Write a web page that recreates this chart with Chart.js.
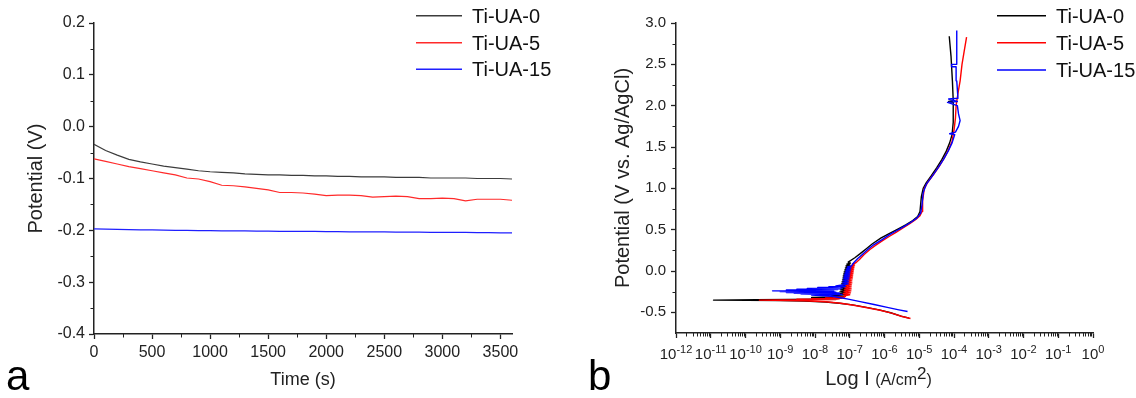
<!DOCTYPE html>
<html>
<head>
<meta charset="utf-8">
<script src="https://cdn.jsdelivr.net/npm/chart.js@4.4.1/dist/chart.umd.min.js"></script>
<style>
  html, body { margin: 0; padding: 0; background: #fff; }
  #wrap { position: relative; width: 1136px; height: 398px; overflow: hidden; }
  .panel { position: absolute; top: 0; width: 568px; height: 398px; }
  #panelA { left: 0; }
  #panelB { left: 568px; }
</style>
</head>
<body>
<div id="wrap">
  <div class="panel" id="panelA"><canvas id="ocpChart" width="568" height="398"></canvas></div>
  <div class="panel" id="panelB"><canvas id="tafelChart" width="568" height="398"></canvas></div>
</div>
<script>
// ---- data ----
const seriesNames = ['Ti-UA-0', 'Ti-UA-5', 'Ti-UA-15'];

// (a) open circuit potential vs time
const timeS = [0, 100, 200, 300, 400, 500, 600, 700, 800, 900, 1000, 1100, 1200, 1300, 1400, 1500, 1600, 1700, 1800,
  1900, 2000, 2100, 2200, 2300, 2400, 2500, 2600, 2700, 2800, 2900, 3000, 3100, 3200, 3300, 3400, 3500, 3600];
const ocpUa0 = [-0.034, -0.046, -0.055, -0.063, -0.068, -0.072, -0.076, -0.079, -0.082, -0.085,
  -0.087, -0.088, -0.089, -0.091, -0.092, -0.093, -0.093, -0.094, -0.094, -0.095,
  -0.095, -0.096, -0.096, -0.097, -0.097, -0.097, -0.098, -0.098, -0.098, -0.099,
  -0.099, -0.099, -0.099, -0.100, -0.100, -0.100, -0.101];
const ocpUa5 = [-0.062, -0.067, -0.072, -0.077, -0.081, -0.085, -0.089, -0.093, -0.099, -0.101,
  -0.106, -0.113, -0.114, -0.116, -0.119, -0.122, -0.127, -0.127, -0.128, -0.130,
  -0.133, -0.132, -0.132, -0.133, -0.136, -0.135, -0.134, -0.135, -0.139, -0.139,
  -0.138, -0.139, -0.143, -0.140, -0.140, -0.140, -0.142];
const ocpUa15 = [-0.197, -0.1975, -0.198, -0.1985, -0.199, -0.199, -0.1995, -0.2, -0.2, -0.2005,
  -0.2005, -0.201, -0.201, -0.201, -0.2015, -0.2015, -0.202, -0.202, -0.202, -0.202,
  -0.2025, -0.2025, -0.203, -0.203, -0.203, -0.203, -0.2035, -0.2035, -0.2035, -0.204,
  -0.204, -0.204, -0.204, -0.2045, -0.2045, -0.205, -0.205];
const timeTicks = [0, 500, 1000, 1500, 2000, 2500, 3000, 3500];
const ocpTicks = [-0.4, -0.3, -0.2, -0.1, 0.0, 0.1, 0.2];

// (b) polarisation curves: current density (A/cm2) and potential (V vs Ag/AgCl), in scan order
const ua0Current = [5.1e-6, 3.0e-6, 1.5e-6, 7.0e-7, 3.0e-7, 1.2e-7, 5.0e-8, 2.0e-8, 5.0e-9, 1.0e-9,
  1.2e-11, 2.0e-10, 2.0e-9, 1.0e-8, 4.0e-8, 6.0e-8, 8.0e-9, 7.0e-8, 3.0e-8,
  7.5e-8, 5.0e-8, 7.8e-8, 5.2e-8, 8.0e-8, 5.4e-8, 8.0e-8, 5.5e-8, 8.2e-8, 5.6e-8,
  8.4e-8, 5.8e-8, 8.5e-8, 6.0e-8, 8.6e-8, 6.2e-8, 8.8e-8, 6.4e-8, 9.0e-8, 6.5e-8,
  9.2e-8, 6.7e-8, 9.4e-8, 6.9e-8, 9.6e-8, 7.2e-8, 9.8e-8, 7.5e-8, 1.0e-7, 7.8e-8,
  1.02e-7, 8.2e-8, 1.05e-7, 9.0e-8,
  1.4e-7, 2.0e-7, 3.0e-7, 4.5e-7, 8.0e-7, 1.5e-6, 2.5e-6, 4.2e-6, 6.5e-6, 9.0e-6,
  1.05e-5, 1.15e-5, 1.3e-5, 1.6e-5, 2.2e-5, 3.2e-5, 4.5e-5, 6.0e-5, 7.5e-5, 8.8e-5,
  9.5e-5, 9.5e-5, 7.0e-5, 9.5e-5, 9.0e-5, 8.2e-5, 7.3e-5];
const ua0Potential = [-0.57, -0.545, -0.505, -0.47, -0.44, -0.41, -0.39, -0.375, -0.365, -0.358,
  -0.352, -0.348, -0.345, -0.34, -0.335, -0.325, -0.32, -0.31, -0.30,
  -0.288, -0.276, -0.264, -0.252, -0.24, -0.228, -0.216, -0.204, -0.192, -0.18,
  -0.168, -0.156, -0.144, -0.132, -0.12, -0.108, -0.096, -0.084, -0.072, -0.06,
  -0.048, -0.036, -0.024, -0.012, 0.0, 0.012, 0.024, 0.036, 0.048, 0.06,
  0.072, 0.084, 0.096, 0.108,
  0.16, 0.21, 0.27, 0.33, 0.40, 0.46, 0.51, 0.56, 0.61, 0.66,
  0.72, 0.9, 1.0, 1.07, 1.15, 1.25, 1.35, 1.45, 1.55, 1.65,
  1.8, 2.04, 2.05, 2.06, 2.3, 2.6, 2.84];

const ua5Current = [5.6e-6, 3.2e-6, 1.6e-6, 7.5e-7, 3.2e-7, 1.3e-7, 5.5e-8, 2.0e-8, 5.0e-9,
  2.5e-10, 5.0e-9, 4.0e-8, 3.0e-9, 5.0e-8, 8.0e-9, 6.0e-8, 2.0e-8, 7.0e-8, 3.5e-8, 7.5e-8,
  7.0e-8, 1.0e-7, 6.5e-8, 1.05e-7, 6.8e-8, 1.08e-7, 7.0e-8, 1.1e-7, 7.2e-8, 1.1e-7,
  7.5e-8, 1.12e-7, 7.8e-8, 1.15e-7, 8.0e-8, 1.15e-7, 8.3e-8, 1.18e-7, 8.6e-8, 1.2e-7,
  9.0e-8, 1.22e-7, 9.3e-8, 1.25e-7, 9.6e-8, 1.27e-7, 1.0e-7, 1.3e-7, 1.05e-7, 1.33e-7,
  1.1e-7, 1.38e-7, 1.2e-7, 1.5e-7,
  1.9e-7, 2.6e-7, 3.8e-7, 5.5e-7, 9.0e-7, 1.4e-6, 2.2e-6, 3.4e-6, 5.2e-6, 7.8e-6,
  1.05e-5, 1.2e-5, 1.25e-5, 1.4e-5, 1.8e-5, 2.6e-5, 3.8e-5, 5.3e-5, 7.0e-5, 8.8e-5,
  1.0e-4, 1.1e-4, 1.15e-4, 1.3e-4, 1.5e-4, 1.7e-4, 1.95e-4, 2.3e-4];
const ua5Potential = [-0.575, -0.55, -0.51, -0.475, -0.445, -0.415, -0.39, -0.372, -0.362,
  -0.352, -0.348, -0.345, -0.342, -0.338, -0.335, -0.331, -0.327, -0.322, -0.317, -0.31,
  -0.30, -0.288, -0.276, -0.264, -0.252, -0.24, -0.228, -0.216, -0.204, -0.192,
  -0.18, -0.168, -0.156, -0.144, -0.132, -0.12, -0.108, -0.096, -0.084, -0.072,
  -0.06, -0.048, -0.036, -0.024, -0.012, 0.0, 0.012, 0.024, 0.036, 0.048,
  0.06, 0.072, 0.084, 0.1,
  0.14, 0.2, 0.26, 0.31, 0.37, 0.42, 0.47, 0.52, 0.57, 0.62,
  0.67, 0.72, 0.85, 1.0, 1.08, 1.17, 1.27, 1.37, 1.47, 1.57,
  1.7, 1.85, 2.0, 2.15, 2.3, 2.5, 2.65, 2.83];

const ua15Current = [4.6e-6, 2.6e-6, 1.2e-6, 5.0e-7, 2.0e-7, 9.0e-8, 5.0e-8, 3.0e-8,
  8.0e-9, 6.0e-8, 4.0e-9, 5.0e-8, 2.5e-9, 5.0e-8, 1.5e-9, 4.0e-8, 1.0e-9, 3.5e-8,
  6.0e-10, 3.0e-8, 1.5e-9, 4.5e-8, 3.0e-9, 5.5e-8, 6.0e-9, 6.0e-8, 1.2e-8, 7.0e-8,
  2.5e-8, 7.5e-8, 4.0e-8,
  6.0e-8, 9.0e-8, 6.2e-8, 9.2e-8, 6.4e-8, 9.4e-8, 6.6e-8, 9.6e-8, 6.8e-8, 9.8e-8,
  7.0e-8, 1.0e-7, 7.3e-8, 1.02e-7, 7.6e-8, 1.05e-7, 8.0e-8, 1.08e-7, 8.5e-8, 1.12e-7, 1.2e-7,
  1.3e-7, 1.7e-7, 2.3e-7, 3.3e-7, 5.0e-7, 8.5e-7, 1.4e-6, 2.3e-6, 3.7e-6, 5.8e-6,
  8.5e-6, 1.1e-5, 1.2e-5, 1.3e-5, 1.6e-5, 2.4e-5, 3.5e-5, 5.0e-5, 6.8e-5, 8.8e-5,
  1.05e-4, 7.5e-5, 1.1e-4, 1.35e-4, 1.5e-4, 1.35e-4, 1.25e-4, 6.5e-5, 1.25e-4, 7.0e-5,
  1.3e-4, 1.2e-4, 1.15e-4, 8.5e-5, 8.5e-5, 1.15e-4, 1.2e-4, 1.2e-4];
const ua15Potential = [-0.49, -0.47, -0.44, -0.405, -0.37, -0.34, -0.32, -0.305,
  -0.29, -0.285, -0.28, -0.275, -0.27, -0.265, -0.26, -0.255, -0.25, -0.245,
  -0.24, -0.235, -0.23, -0.225, -0.22, -0.215, -0.21, -0.205, -0.2, -0.195,
  -0.19, -0.185, -0.18,
  -0.168, -0.156, -0.144, -0.132, -0.12, -0.108, -0.096, -0.084, -0.072, -0.06,
  -0.048, -0.036, -0.024, -0.012, 0.0, 0.012, 0.024, 0.036, 0.048, 0.06, 0.08,
  0.1, 0.15, 0.2, 0.26, 0.32, 0.38, 0.44, 0.49, 0.54, 0.59,
  0.64, 0.7, 0.8, 0.95, 1.05, 1.15, 1.25, 1.35, 1.45, 1.55,
  1.65, 1.66, 1.68, 1.75, 1.82, 1.9, 2.0, 2.04, 2.05, 2.08,
  2.09, 2.3, 2.47, 2.47, 2.5, 2.5, 2.7, 2.91];

const currentTickExps = [-12, -11, -10, -9, -8, -7, -6, -5, -4, -3, -2, -1, 0];
const potentialTicks = [-0.5, 0.0, 0.5, 1.0, 1.5, 2.0, 2.5, 3.0];

// ---- styles ----
const lineColors = ['#3c3c3c', '#ff2a2a', '#1f1fff'];
const tafelColors = ['#000000', '#ff0000', '#0000ff'];
const axisColor = '#222';
const fontFamily = '"Liberation Sans", Arial, sans-serif';

Chart.defaults.font.family = fontFamily;
Chart.defaults.color = axisColor;

const pair = (xs, ys) => xs.map((x, i) => ({ x: x, y: ys[i] }));
const midpoints = arr => arr.slice(0, -1).map((v, i) => (v + arr[i + 1]) / 2);

// minor ticks, legend and panel letter drawn on top of the library's scales
function decorations(cfg) {
  return {
    id: 'decor_' + cfg.letter,
    afterDraw(chart) {
      const ctx = chart.ctx;
      const area = chart.chartArea;
      const xs = chart.scales.x, ys = chart.scales.y;
      ctx.save();
      ctx.strokeStyle = axisColor;
      ctx.lineWidth = 1;
      ctx.beginPath();
      cfg.minorX.forEach(v => {
        const px = Math.round(xs.getPixelForValue(v)) + 0.5;
        ctx.moveTo(px, area.bottom);
        ctx.lineTo(px, area.bottom + 3.5);
      });
      cfg.minorY.forEach(v => {
        const py = Math.round(ys.getPixelForValue(v)) + 0.5;
        ctx.moveTo(area.left, py);
        ctx.lineTo(area.left - 3.5, py);
      });
      ctx.stroke();

      // legend
      ctx.font = '20px ' + fontFamily;
      ctx.textBaseline = 'middle';
      ctx.textAlign = 'left';
      chart.data.datasets.forEach((ds, i) => {
        const y = cfg.legend.rows[i];
        ctx.strokeStyle = ds.borderColor;
        ctx.lineWidth = 1.5;
        ctx.beginPath();
        ctx.moveTo(cfg.legend.x0, y);
        ctx.lineTo(cfg.legend.x1, y);
        ctx.stroke();
        ctx.fillStyle = '#111';
        ctx.fillText(ds.label, cfg.legend.textX, y + 1.5);
      });

      // panel letter
      ctx.font = '42px ' + fontFamily;
      ctx.textBaseline = 'alphabetic';
      ctx.fillStyle = '#000';
      ctx.fillText(cfg.letter, cfg.letterX, 390);
      if (cfg.extra) cfg.extra(chart, ctx);
      ctx.restore();
    }
  };
}

// ---- chart a ----
new Chart(document.getElementById('ocpChart'), {
  type: 'line',
  data: {
    datasets: [ocpUa0, ocpUa5, ocpUa15].map((vals, i) => ({
      label: seriesNames[i],
      data: pair(timeS, vals),
      borderColor: lineColors[i],
      borderWidth: 1.2,
      pointRadius: 0,
      fill: false,
      tension: 0
    }))
  },
  options: {
    responsive: false,
    animation: false,
    events: [],
    layout: { padding: { left: 0, right: 56, top: 23, bottom: 0 } },
    plugins: { legend: { display: false }, tooltip: { enabled: false } },
    scales: {
      x: {
        type: 'linear', min: 0, max: 3600,
        afterBuildTicks: s => { s.ticks = timeTicks.map(v => ({ value: v })); },
        afterFit: s => { s.height = 64; },
        grid: { display: true, drawOnChartArea: false, tickLength: 5, tickWidth: 1.3, tickColor: axisColor },
        border: { color: axisColor, width: 1.5 },
        ticks: { font: { size: 16 }, color: axisColor, padding: 4, maxRotation: 0, autoSkip: false, callback: v => String(v) },
        title: { display: true, text: 'Time (s)', font: { size: 18 }, color: axisColor, padding: { top: 0, bottom: 7 } }
      },
      y: {
        type: 'linear', min: -0.4, max: 0.2,
        afterBuildTicks: s => { s.ticks = ocpTicks.map(v => ({ value: v })); },
        afterFit: s => { s.width = 94; },
        grid: { display: true, drawOnChartArea: false, tickLength: 5, tickWidth: 1.3, tickColor: axisColor },
        border: { color: axisColor, width: 1.5 },
        ticks: { font: { size: 16 }, color: axisColor, padding: 4, callback: v => v.toFixed(1) },
        title: { display: true, text: 'Potential (V)', font: { size: 20 }, color: axisColor, padding: { top: 24, bottom: 0 } }
      }
    }
  },
  plugins: [decorations({
    letter: 'a', letterX: 6,
    minorX: midpoints(timeTicks), minorY: midpoints(ocpTicks),
    legend: { x0: 416, x1: 462, textX: 472, rows: [15.7, 42.7, 69.3] }
  })]
});

// ---- chart b ----
const minorCurrent = [];
currentTickExps.slice(0, -1).forEach(e => {
  for (let m = 2; m <= 9; m++) minorCurrent.push(m * Math.pow(10, e));
});

function drawLogAxisText(chart, ctx) {
  const xs = chart.scales.x;
  const area = chart.chartArea;
  ctx.fillStyle = axisColor;
  ctx.textBaseline = 'alphabetic';
  currentTickExps.forEach(e => {
    const px = xs.getPixelForValue(Math.pow(10, e));
    ctx.font = '15px ' + fontFamily;
    const w1 = ctx.measureText('10').width;
    ctx.font = '11px ' + fontFamily;
    const w2 = ctx.measureText(String(e)).width;
    const x0 = px - (w1 + w2) / 2;
    ctx.font = '15px ' + fontFamily;
    ctx.fillText('10', x0, area.bottom + 26);
    ctx.font = '11px ' + fontFamily;
    ctx.fillText(String(e), x0 + w1, area.bottom + 19.5);
  });

  // axis title: Log I (A/cm2)
  const parts = [
    { t: 'Log I ', size: 20, dy: 0 },
    { t: '(A/cm', size: 16, dy: 0 },
    { t: '2', size: 17, dy: -6 },
    { t: ')', size: 16, dy: 0 }
  ];
  let total = 0;
  parts.forEach(p => { ctx.font = p.size + 'px ' + fontFamily; p.w = ctx.measureText(p.t).width; total += p.w; });
  let x = (area.left + area.right) / 2 - 6 - total / 2;
  parts.forEach(p => {
    ctx.font = p.size + 'px ' + fontFamily;
    ctx.fillText(p.t, x, 385 + p.dy);
    x += p.w;
  });
}

new Chart(document.getElementById('tafelChart'), {
  type: 'scatter',
  data: {
    datasets: [[ua0Current, ua0Potential], [ua5Current, ua5Potential], [ua15Current, ua15Potential]].map((d, i) => ({
      label: seriesNames[i],
      data: pair(d[0], d[1]),
      showLine: true,
      borderColor: tafelColors[i],
      backgroundColor: tafelColors[i],
      borderWidth: 1.4,
      borderJoinStyle: 'round',
      pointRadius: 0,
      fill: false,
      tension: 0,
      order: 3 - i
    }))
  },
  options: {
    responsive: false,
    animation: false,
    events: [],
    layout: { padding: { left: 0, right: 43, top: 23, bottom: 0 } },
    plugins: { legend: { display: false }, tooltip: { enabled: false } },
    scales: {
      x: {
        type: 'logarithmic', min: 1e-12, max: 1,
        afterBuildTicks: s => { s.ticks = currentTickExps.map(e => ({ value: Math.pow(10, e) })); },
        afterFit: s => { s.height = 65; },
        grid: { display: true, drawOnChartArea: false, tickLength: 5, tickWidth: 1.3, tickColor: axisColor },
        border: { color: axisColor, width: 1.5 },
        ticks: { autoSkip: false, maxRotation: 0, callback: () => '' }
      },
      y: {
        type: 'linear', min: -0.75, max: 3.0,
        afterBuildTicks: s => { s.ticks = potentialTicks.map(v => ({ value: v })); },
        afterFit: s => { s.width = 108; },
        grid: { display: true, drawOnChartArea: false, tickLength: 5, tickWidth: 1.3, tickColor: axisColor },
        border: { color: axisColor, width: 1.5 },
        ticks: { font: { size: 15 }, color: axisColor, padding: 5, callback: v => v.toFixed(1) },
        title: { display: true, text: 'Potential (V vs. Ag/AgCl)', font: { size: 20 }, color: axisColor, padding: { top: 43, bottom: 0 } }
      }
    }
  },
  plugins: [decorations({
    letter: 'b', letterX: 20,
    minorX: minorCurrent, minorY: midpoints(potentialTicks),
    legend: { x0: 429, x1: 478, textX: 488, rows: [15.7, 42.7, 70] },
    extra: drawLogAxisText
  })]
});
</script>
</body>
</html>
